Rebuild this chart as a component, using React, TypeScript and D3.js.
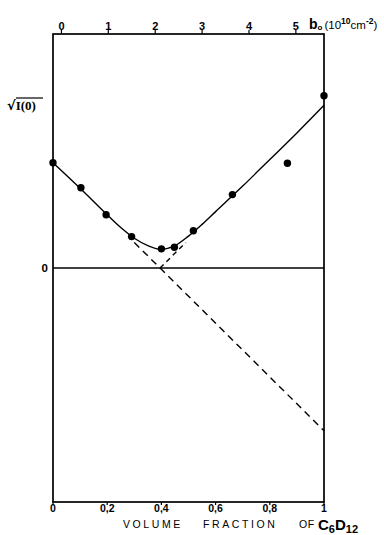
import React from "react";
import * as d3 from "d3";

// measured points: volume fraction of C6D12 vs sqrt(I(0))
const fraction = [0, 0.103, 0.196, 0.29, 0.4, 0.448, 0.518, 0.662, 0.865, 1];
const sqrtI = [0.99, 0.755, 0.5, 0.295, 0.18, 0.195, 0.35, 0.69, 0.985, 1.62];

// smooth fitted curve as drawn
const curveX = [0, 0.1, 0.2, 0.25, 0.3, 0.35, 0.4, 0.45, 0.5, 0.55, 0.6, 0.7, 0.8, 0.9, 1];
const curveY = [0.99, 0.75, 0.5, 0.38, 0.28, 0.21, 0.175, 0.21, 0.3, 0.41, 0.53, 0.77, 1.02, 1.27, 1.53];

// dashed asymptotes
const leftDashX = [0.3, 1];
const leftDashY = [0.24, -1.53];
const rightDashX = [0.395, 0.49];
const rightDashY = [0, 0.24];

const bottomTicks = [0, 0.2, 0.4, 0.6, 0.8, 1];
const bottomLabels = ["0", "0,2", "0,4", "0,6", "0,8", "1"];
const topTicks = [0, 1, 2, 3, 4, 5];

const W = 384;
const H = 535;
const left = 53;
const right = 324;
const top = 34;
const bottom = 502;

export default function App() {
  const x = d3.scaleLinear().domain([0, 1]).range([left, right]);
  const xb = d3.scaleLinear().domain([-0.18, 5.6]).range([left, right]);
  const y = d3.scaleLinear().domain([-2.2, 2.2]).range([bottom, top]);

  const smooth = d3
    .line<[number, number]>()
    .x((d) => x(d[0]))
    .y((d) => y(d[1]))
    .curve(d3.curveCatmullRom.alpha(0.5));
  const straight = d3
    .line<[number, number]>()
    .x((d) => x(d[0]))
    .y((d) => y(d[1]));

  const curve = smooth(curveX.map((v, i) => [v, curveY[i]]) as [number, number][]);
  const dashL = straight(leftDashX.map((v, i) => [v, leftDashY[i]]) as [number, number][]);
  const dashR = straight(rightDashX.map((v, i) => [v, rightDashY[i]]) as [number, number][]);

  const font = "'Liberation Sans', Arial, sans-serif";

  return (
    <div style={{ position: "absolute", left: 0, top: 0 }}>
      <svg width={W} height={H} viewBox={`0 0 ${W} ${H}`} style={{ display: "block", background: "#fff" }}>
        <g stroke="#000" fill="none" strokeWidth={1.7}>
          <rect x={left} y={top} width={right - left} height={bottom - top} />
          <line x1={left} x2={right} y1={y(0)} y2={y(0)} />
        </g>

        {/* top axis */}
        {topTicks.map((t) => (
          <g key={"t" + t}>
            <line x1={xb(t)} x2={xb(t)} y1={top} y2={top - 4} stroke="#000" strokeWidth={1.2} />
            <text x={xb(t)} y={top - 4} textAnchor="middle" fontFamily={font} fontWeight="bold" fontSize={11}>
              {t}
            </text>
          </g>
        ))}
        <text x={309} y={29} fontFamily={font} fontSize={11.5}>
          <tspan fontWeight="bold" fontSize={14}>b</tspan>
          <tspan fontSize={8} dy={1} fontWeight="bold">o</tspan>
          <tspan dy={-1} dx={2}>(10</tspan>
          <tspan fontSize={8.5} fontWeight="bold" dy={-5}>10</tspan>
          <tspan dy={5}>cm</tspan>
          <tspan fontSize={8.5} fontWeight="bold" dy={-5}>-2</tspan>
          <tspan dy={5}>)</tspan>
        </text>

        {/* bottom axis */}
        {bottomTicks.map((t, i) => (
          <g key={"b" + t}>
            <line x1={x(t)} x2={x(t)} y1={bottom} y2={bottom + 3} stroke="#000" strokeWidth={1.2} />
            <text x={x(t)} y={512} textAnchor="middle" fontFamily={font} fontWeight="bold" fontSize={10.5}>
              {bottomLabels[i]}
            </text>
          </g>
        ))}
        <g fontFamily={font} fontSize={10.5} letterSpacing={2.6}>
          <text x={123} y={528}>VOLUME</text>
          <text x={203} y={528}>FRACTION</text>
          <text x={299} y={528} letterSpacing={0.5}>OF</text>
        </g>
        <text x={318} y={530} fontFamily={font} fontWeight="bold" fontSize={15}>
          C<tspan fontSize={11} dy={3}>6</tspan>
          <tspan dy={-3}>D</tspan>
          <tspan fontSize={11} dy={3}>12</tspan>
        </text>

        {/* y labels */}
        <text x={48} y={y(0) + 4} textAnchor="end" fontFamily={font} fontWeight="bold" fontSize={11.5}>
          0
        </text>
        <text x={7} y={110} fontFamily="'DejaVu Sans', sans-serif" fontWeight="bold" fontSize={13}>
          √<tspan fontFamily="'Liberation Serif', serif" fontSize={13}>I(0)</tspan>
        </text>
        <line x1={16} x2={43} y1={98} y2={98} stroke="#000" strokeWidth={1.2} />

        {/* curves */}
        <path d={curve ?? ""} fill="none" stroke="#000" strokeWidth={1.4} />
        <path d={dashL ?? ""} fill="none" stroke="#000" strokeWidth={1.4} strokeDasharray="7,5" />
        <path d={dashR ?? ""} fill="none" stroke="#000" strokeWidth={1.4} strokeDasharray="5,4" />

        {fraction.map((f, i) => (
          <circle key={"p" + i} cx={x(f)} cy={y(sqrtI[i])} r={3.7} fill="#000" />
        ))}
      </svg>
    </div>
  );
}
